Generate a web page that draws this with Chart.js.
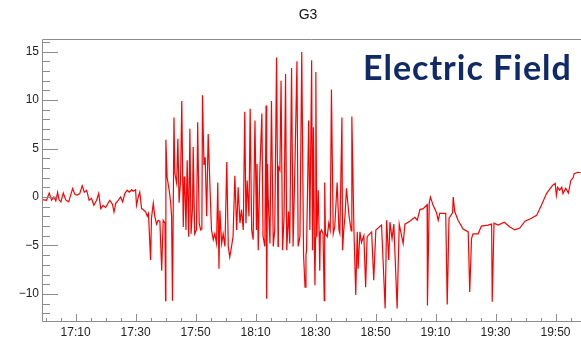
<!DOCTYPE html>
<html>
<head>
<meta charset="utf-8">
<script src="https://cdn.jsdelivr.net/npm/chart.js@4"></script>
<style>
  html, body { margin: 0; padding: 0; background: #fff; }
  #wrap { width: 581px; height: 337px; }
</style>
</head>
<body>
<div id="wrap"><canvas id="chart"></canvas></div>
<script>
// minutes after 17:00
const minutes = [
  -1.0, 0.3, 1.2, 2.0, 2.8, 3.4, 4.0, 4.5, 5.1, 5.9, 6.7, 7.7, 9.0, 9.8, 10.5, 11.4,
  12.2, 12.9, 13.7, 14.5, 15.3, 16.1, 17.0, 17.7, 18.4, 19.2, 20.0, 20.7, 21.4, 22.3,
  22.8, 23.4, 24.2, 25.0, 25.7, 26.4, 27.2, 27.9, 28.7, 29.2, 30.0, 30.3, 30.9, 31.4,
  32.0, 32.5, 33.4, 33.9, 34.3, 35.0, 35.3, 35.9, 36.4, 37.0, 37.5, 38.1, 38.7, 39.2,
  39.8, 40.0, 40.1, 40.5, 41.2, 41.7, 42.0, 42.3, 42.8, 43.1, 43.7, 44.1, 44.5, 45.0,
  45.4, 45.9, 46.2, 46.4, 46.8, 47.2, 47.7, 48.1, 48.5, 49.0, 49.2, 49.7, 50.3, 50.7,
  51.2, 51.7, 52.1, 52.3, 52.8, 53.2, 53.7, 54.2, 54.8, 55.3, 55.9, 56.4, 57.0, 57.4,
  57.8, 58.1, 58.7, 59.2, 59.8, 60.4, 60.9, 61.4, 62.0, 62.5, 63.1, 63.7, 64.2, 64.8,
  65.3, 65.9, 66.4, 66.8, 67.2, 67.8, 68.2, 68.7, 69.2, 69.8, 70.3, 70.5, 70.9, 71.4,
  72.1, 72.5, 73.1, 73.5, 73.7, 74.0, 74.2, 74.8, 75.3, 75.9, 76.4, 77.0, 77.5, 77.6,
  78.1, 78.5, 79.0, 79.5, 80.0, 80.4, 81.0, 81.4, 82.0, 82.5, 83.1, 83.8, 84.2, 84.8,
  85.4, 86.0, 86.5, 86.8, 87.0, 87.7, 88.1, 88.7, 89.0, 89.3, 89.6, 89.8, 90.0, 90.1,
  90.4, 90.9, 91.2, 91.4, 91.6, 92.0, 92.5, 92.9, 93.0, 93.1, 93.3, 93.9, 94.4, 94.9,
  95.3, 95.9, 96.4, 97.2, 97.8, 98.1, 98.8, 99.0, 99.4, 99.8, 100.3, 101.2, 101.9,
  102.1, 102.8, 103.4, 103.9, 104.2, 104.8, 105.3, 106.1, 106.7, 107.2, 108.7, 109.4,
  110.1, 112.0, 113.2, 113.7, 114.4, 114.8, 115.5, 116.1, 117.2, 117.9, 119.2, 119.8,
  121.4, 123.1, 123.9, 124.8, 125.9, 127.2, 127.3, 127.9, 128.3, 129.2, 130.3, 130.9,
  131.4, 133.4, 133.9, 134.5, 135.7, 135.9, 136.4, 137.5, 139.2, 140.9, 141.4, 142.0,
  142.5, 144.2, 145.3, 147.5, 148.7, 148.9, 149.5, 150.9, 152.9, 154.8, 156.4, 158.1,
  159.8, 162.0, 163.7, 165.3, 167.0, 169.0, 169.9, 170.3, 170.7, 171.4, 172.1, 172.5,
  173.4, 174.3, 175.1, 175.9, 176.2, 177.5, 178.4
];
const field = [
  -0.27, -0.34, 0.41, -0.34, 0, -0.4, 0.48, -0.3, -0.5, 0.4, -0.3, -0.5, 0.86, 0.25, 0.2, 0.35,
  1.17, 0.5, 0.7, -0.34, -0.16, -0.86, -0.34, 0.35, -1.2, -0.86, -1.1, -0.7, -0.34, -0.76,
  -1.55, -0.65, -0.34, 0, -0.5, 0.35, 0.7, 0.5, 0.75, 0.6, 0.75, -0.86, 0, 0.5,
  -1.2, -1.3, -1.55, -2.0, -1.7, -6.5, -2.2, -0.65, -2.0, -2.8, -2.4, -2.5, -7.6, -2.4,
  -2.7, -10.7, 5.9, 2.06, 0.7, -0.6, -2.0, -10.7, 8.2, 2.4, 1.4, 6.0, -0.6, 1.7,
  9.9, -3.1, 2.1, 1.7, -3.4, 3.8, -4.1, 7.05, -3.8, -1.0, 5.15, -3.8, -3.4, 7.7,
  -2.7, -3.4, -3.3, 10.5, 3.3, 4.1, -2.0, 6.5, 1.1, -3.4, -4.4, -3.8, -4.8, 1.5,
  -7.4, -1.4, -4.8, -3.8, -5.1, 3.6, -5.1, -6.2, -5.1, -4.1, 2.2, -3.4, 1.0, -2.7,
  -1.3, -3.4, 8.8, -2.7, 1.7, -2.0, 9.1, -3.4, -4.4, 7.9, -3.4, 3.4, -5.5, 2.4,
  8.6, -4.1, -5.1, 9.45, -10.5, 3.4, 0, -4.8, 9.9, -5.1, -3.4, 14.4, -5.1, 3.1,
  2.75, 12.0, -5.5, -2.0, 12.7, -5.5, -1.5, -4.8, 13.3, -5.1, 2.75, 14.0, -5.1, -4.1,
  14.95, -6.0, -9.3, -6.0, -5.5, 7.9, -3.4, 14.1, -5.5, 7.2, -4.5, -9.1, -4.2, 12.9,
  -4.1, 0.7, -3.8, -7.6, -3.6, -3.4, -3.8, -10.7, -3.8, 1.5, -3.8, -4.1, -2.7, -3.4,
  11.1, -3.8, -3.1, 1.5, -3.4, -3.75, 8.2, -5.5, -3.4, -2.06, 0.9, -2.06, -3.5,
  8.3, -3.4, -10.1, -3.6, -7.4, -3.6, -4.7, -4.0, -9.3, -4.1, -3.6, -8.6,
  -3.4, -2.9, -11.5, -2.4, -6.5, -2.6, -4.3, -2.8, -11.5, -2.8, -4.8, -2.8,
  -2.5, -2.1, -2.4, -1.3, -1.2, -0.8, -11.2, -0.6, 0, -0.86, -1.6, -2.4,
  -1.7, -1.7, -11.1, -2.2, -1.6, 0, -1.5, -2.4, -3.3, -3.6, -9.8, -4.3,
  -3.8, -3.8, -3.0, -2.9, -2.8, -10.8, -2.7, -2.9, -2.6, -3.1, -3.4, -3.2,
  -2.5, -2.2, -1.9, -0.86, 0.35, 1.2, 1.4, 0.17, 1.0, 0.7, 1.0, 0.35,
  0.9, 0.4, 1.7, 2.0, 2.4, 2.55, 2.5
];
const xTicks = [10, 30, 50, 70, 90, 110, 130, 150, 170];
const yTicks = [-10, -5, 0, 5, 10, 15];

function clockLabel(m) {
  const h = 17 + Math.floor(m / 60);
  const mm = m % 60;
  return h + ":" + String(mm).padStart(2, "0");
}

const frameColor = "#8c8c8c";

const rootFrame = {
  id: "rootFrame",
  afterDraw(chart) {
    const { ctx, chartArea: a, scales } = chart;
    const x = scales.x, y = scales.y;
    ctx.save();
    ctx.strokeStyle = frameColor;
    ctx.lineWidth = 1;
    ctx.beginPath();
    ctx.moveTo(a.right, a.top + 0.5);
    ctx.lineTo(a.left + 0.5, a.top + 0.5);
    ctx.lineTo(a.left + 0.5, a.bottom - 0.5);
    ctx.lineTo(a.right, a.bottom - 0.5);
    // ticks point inward, like ROOT
    for (let m = 0; m <= x.max; m += 5) {
      const px = Math.round(x.getPixelForValue(m)) + 0.5;
      const len = (m - 10) % 20 === 0 ? 8 : 4;
      ctx.moveTo(px, a.bottom);
      ctx.lineTo(px, a.bottom - len);
    }
    for (let v = -12; v <= 16; v++) {
      const py = Math.round(y.getPixelForValue(v)) + 0.5;
      const len = v % 5 === 0 ? 16 : 8;
      ctx.moveTo(a.left, py);
      ctx.lineTo(a.left + len, py);
    }
    ctx.stroke();

    ctx.fillStyle = "#111";
    ctx.font = "14px 'Liberation Sans'";
    ctx.textAlign = "center";
    ctx.textBaseline = "alphabetic";
    ctx.fillText("G3", 308, 19);

    ctx.fillStyle = "#0f2a66";
    ctx.font = "bold 34px Lato";
    ctx.textAlign = "left";
    ctx.letterSpacing = "1px";
    ctx.fillText("Electric Field", 363, 80);
    ctx.restore();
  }
};

new Chart(document.getElementById("chart"), {
  type: "line",
  data: {
    datasets: [
      {
        data: minutes.map((m, i) => ({ x: m, y: field[i] })),
        borderColor: "#ff0000",
        borderWidth: 1.2,
        pointRadius: 0,
        tension: 0,
        fill: false,
      },
    ],
  },
  options: {
    responsive: true,
    maintainAspectRatio: false,
    animation: false,
    layout: { padding: { top: 39, left: 0, right: 0, bottom: 0 } },
    plugins: {
      legend: { display: false },
      title: { display: false },
      tooltip: { enabled: false },
    },
    scales: {
      x: {
        type: "linear",
        min: -1.2,
        max: 178.5,
        grid: { display: false, drawTicks: false },
        border: { display: false },
        afterBuildTicks: (s) => { s.ticks = xTicks.map((v) => ({ value: v })); },
        afterFit: (s) => { s.height = 15; },
        ticks: {
          padding: 3,
          color: "#222",
          maxRotation: 0,
          autoSkip: false,
          font: { family: "Liberation Sans", size: 12 },
          callback: (v) => clockLabel(v),
        },
      },
      y: {
        min: -12.9,
        max: 16.3,
        grid: { display: false, drawTicks: false },
        border: { display: false },
        afterBuildTicks: (s) => { s.ticks = yTicks.map((v) => ({ value: v })); },
        afterFit: (s) => { s.width = 42; },
        ticks: {
          padding: 3,
          color: "#222",
          font: { family: "Liberation Sans", size: 12 },
          callback: (v) => (v < 0 ? "\u2212" + Math.abs(v) : String(v)),
        },
      },
    },
  },
  plugins: [rootFrame],
});
</script>
</body>
</html>
